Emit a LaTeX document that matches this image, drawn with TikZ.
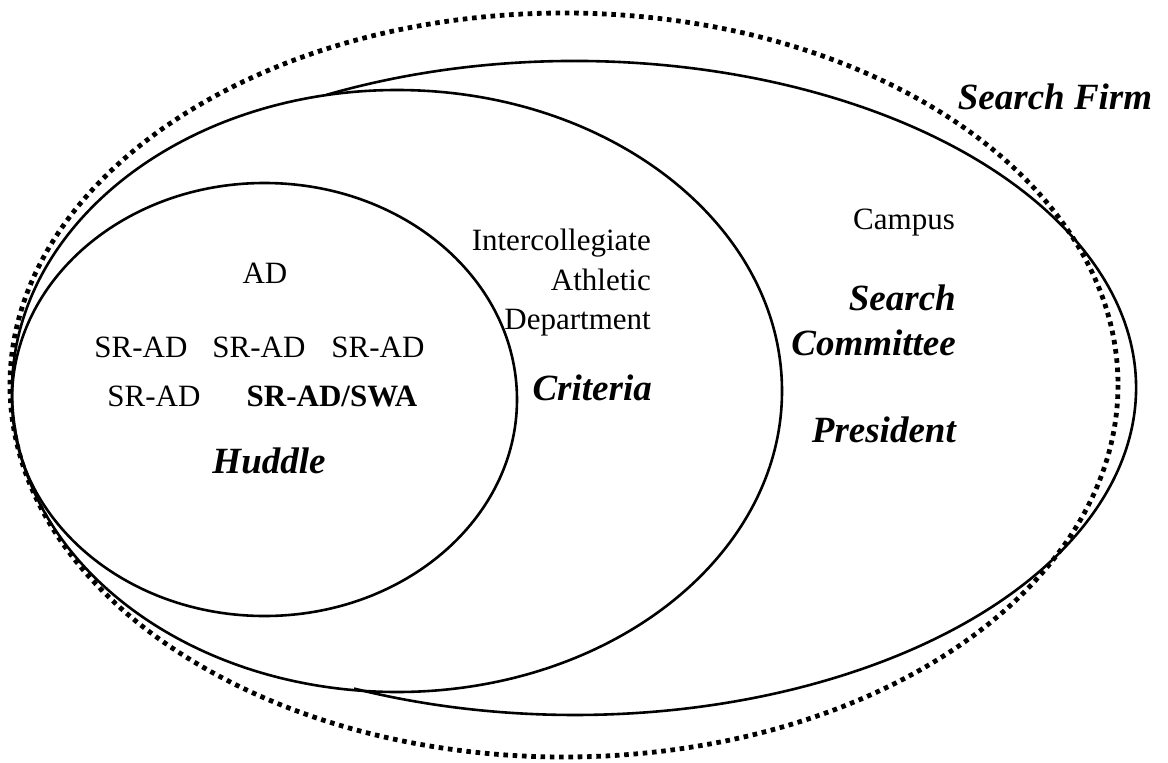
\documentclass[tikz,border=0pt]{standalone}
\usepackage{fontspec}
\setmainfont{Liberation Serif}
\begin{document}
\begin{tikzpicture}[x=1pt,y=-1pt,
  ring/.style={line width=2.6pt},
  dotring/.style={line width=4.8pt, dash pattern=on 4.6pt off 4.7pt},
  lbl/.style={inner sep=0pt, font=\fontsize{31}{39.5}\selectfont},
  lblb/.style={inner sep=0pt, font=\fontsize{31}{39.5}\selectfont\bfseries},
  key/.style={inner sep=0pt, font=\fontsize{37}{45}\selectfont\bfseries\itshape}]
\useasboundingbox[fill=white] (0,0) rectangle (1168,763);
% Search firm (dotted)
\draw[dotring] (564,385) ellipse [x radius=554, y radius=372];
% Intercollegiate athletic department
\draw[ring] (397,391) ellipse [x radius=385, y radius=301];
% Huddle
\draw[ring] (264.5,399.5) ellipse [x radius=252.5, y radius=216.5];
% Campus
\draw[ring] ([shift={(-116.3:561 and 327)}]575,388) arc[start angle=-116.3, end angle=113.2, x radius=561, y radius=327];
% labels
\node[lbl] (ad) at (265,273) {AD};
\node[lbl] (sr1) at (141,347) {SR-AD};
\node[lbl] (sr2) at (259,347) {SR-AD};
\node[lbl] (sr3) at (378,347) {SR-AD};
\node[lbl] (sr4) at (154,396) {SR-AD};
\node[lblb] (swa) at (332,396) {SR-AD/SWA};
\node[key] (huddle) at (269,461) {Huddle};
\node[lbl, align=right, anchor=east] (iad) at (651,283) {Intercollegiate\\Athletic\\Department};
\node[key, anchor=east] (crit) at (652,388) {Criteria};
\node[lbl, anchor=east] (campus) at (955,223) {Campus};
\node[key, align=right, anchor=east] (sc) at (956,320) {Search\\Committee};
\node[key, anchor=east] (pres) at (956,430) {President};
\node[key] (firm) at (1055,97) {Search Firm};
\end{tikzpicture}
\end{document}
